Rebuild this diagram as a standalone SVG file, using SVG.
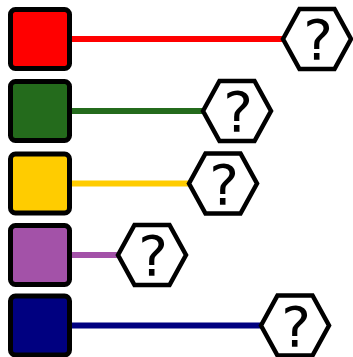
<svg xmlns="http://www.w3.org/2000/svg" width="353" height="357" viewBox="0 0 353 357">
<style>
.sq{stroke:#000;stroke-width:5;}
.hex{fill:#fff;stroke:#000;stroke-width:4.5;stroke-linejoin:miter;}
.q{font-family:"DejaVu Sans",sans-serif;font-size:56px;text-anchor:middle;fill:#000;}
.ln{stroke-width:6;fill:none;}
</style>
<defs>
<polygon id="hx" points="-34,0 -17.5,-30 17.5,-30 34,0 17.5,30 -17.5,30"/>
</defs>
<g id="connectors">
<line class="ln" x1="70" y1="39" x2="283" y2="39" stroke="#ff0000"/>
<line class="ln" x1="70" y1="111" x2="203" y2="111" stroke="#246b1c"/>
<line class="ln" x1="70" y1="183.5" x2="189" y2="183.5" stroke="#ffcc00"/>
<line class="ln" x1="70" y1="255" x2="118" y2="255" stroke="#a352a8"/>
<line class="ln" x1="70" y1="325.5" x2="261" y2="325.5" stroke="#000080"/>
</g>
<g id="sq1"><rect class="sq" x="10.5" y="9.5" width="59" height="59" rx="5" fill="#ff0000"/></g>
<g id="sq2"><rect class="sq" x="10.5" y="81.5" width="59" height="59" rx="5" fill="#246b1c"/></g>
<g id="sq3"><rect class="sq" x="10.5" y="154" width="59" height="59" rx="5" fill="#ffcc00"/></g>
<g id="sq4"><rect class="sq" x="10.5" y="225.5" width="59" height="59" rx="5" fill="#a352a8"/></g>
<g id="sq5"><rect class="sq" x="10.5" y="296" width="59" height="59" rx="5" fill="#000080"/></g>
<g id="hex1" transform="translate(317,39)"><use href="#hx" class="hex"/><text class="q" x="1" y="20">?</text></g>
<g id="hex2" transform="translate(237,111)"><use href="#hx" class="hex"/><text class="q" x="1" y="20">?</text></g>
<g id="hex3" transform="translate(223,183.5)"><use href="#hx" class="hex"/><text class="q" x="1" y="20">?</text></g>
<g id="hex4" transform="translate(152,255)"><use href="#hx" class="hex"/><text class="q" x="1" y="20">?</text></g>
<g id="hex5" transform="translate(295,325.5)"><use href="#hx" class="hex"/><text class="q" x="1" y="20">?</text></g>
</svg>
